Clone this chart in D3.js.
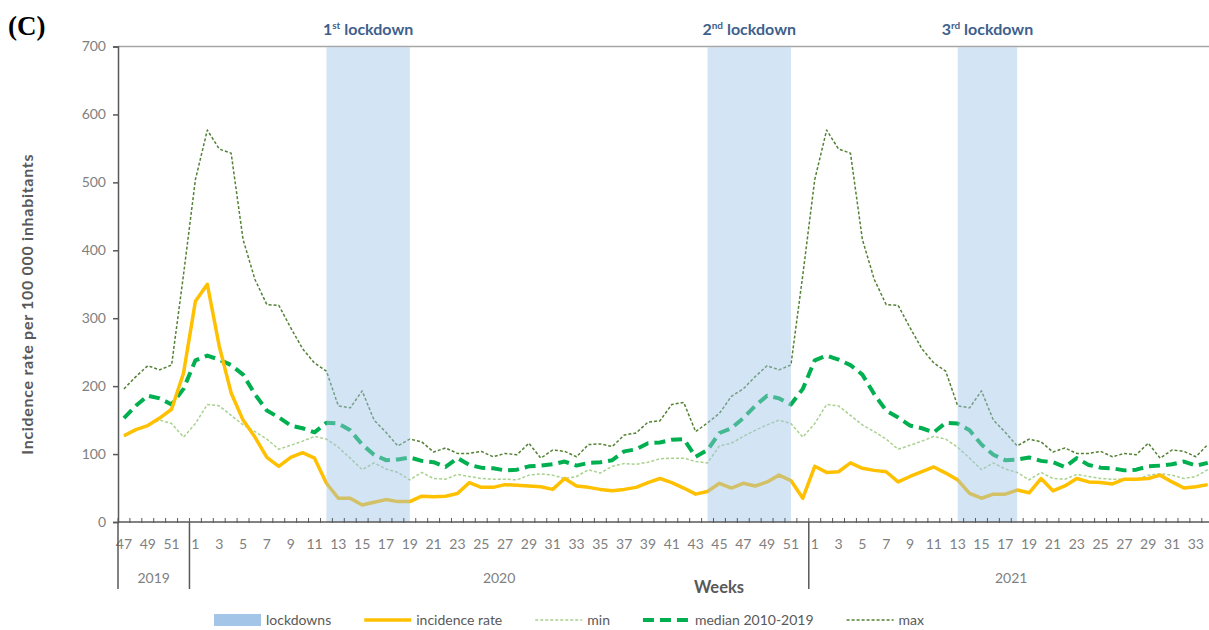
<!DOCTYPE html>
<html>
<head>
<meta charset="utf-8">
<script src="https://cdn.jsdelivr.net/npm/d3@7"></script>
<style>
  body { margin: 0; background: #fff; }
  svg { display: block; font-family: Lato, "Open Sans", sans-serif; }
</style>
</head>
<body>
<svg id="chart"></svg>
<script>
// weeks on the x axis, per year
const years = [2019, 2020, 2021];
const weeks2019 = [47, 48, 49, 50, 51, 52];
const weeks2020 = d3.range(1, 53);
const weeks2021 = d3.range(1, 35);

// observed incidence rate per 100 000 inhabitants
const incidence2019 = [127, 136, 142, 153, 166, 219];
const incidence2020 = [325, 350, 259, 190, 150, 125, 95, 82, 95, 102, 94, 57, 35, 35, 25, 29, 33, 30, 30, 38,
  37, 38, 42, 58, 51, 51, 55, 54, 53, 52, 48, 64, 53, 51, 48, 46, 48, 51, 58, 64,
  58, 50, 41, 45, 57, 50, 57, 53, 59, 69, 61, 35];
const incidence2021 = [82, 73, 74, 87, 79, 76, 74, 59, 67, 74, 81, 72, 62, 42, 35, 41, 41, 47, 43, 64,
  46, 53, 64, 59, 58, 56, 63, 63, 64, 69, 59, 50, 52, 55];

// 2010-2019 reference, by week number 1..52
const refMin = [145, 173, 171, 157, 143, 133, 122, 107, 113, 119, 126, 122, 110, 94, 77, 87, 78, 73, 62, 73,
  64, 63, 70, 67, 64, 63, 63, 62, 69, 71, 69, 64, 67, 77, 72, 82, 86, 85, 88, 93,
  94, 94, 89, 87, 112, 116, 126, 135, 143, 150, 145, 125];
const refMedian = [238, 245, 239, 231, 217, 188, 164, 154, 142, 138, 132, 146, 145, 135, 114, 99, 91, 92, 95, 90,
  88, 81, 94, 84, 80, 79, 76, 77, 82, 83, 85, 89, 83, 87, 88, 91, 104, 107, 116, 117,
  121, 122, 96, 106, 131, 138, 153, 171, 186, 182, 173, 196];
const refMax = [504, 577, 549, 543, 416, 357, 320, 319, 286, 255, 234, 222, 171, 168, 193, 150, 132, 112, 122, 118,
  103, 109, 101, 101, 104, 96, 101, 99, 116, 94, 106, 104, 96, 114, 115, 111, 128, 131, 147, 149,
  173, 176, 133, 146, 160, 185, 196, 214, 230, 224, 231, 364];

const lockdowns = [
  { num: '1', sup: 'st', from: [2020, 12], to: [2020, 19] },
  { num: '2', sup: 'nd', from: [2020, 44], to: [2020, 51] },
  { num: '3', sup: 'rd', from: [2021, 13], to: [2021, 18] }
];

const yTicks = [0, 100, 200, 300, 400, 500, 600, 700];

class WeeklyChart {

  constructor(_config) {
    this.config = {
      parentElement: _config.parentElement,
      containerWidth: _config.containerWidth || 1209,
      containerHeight: _config.containerHeight || 630,
      margin: { top: 46.5, left: 118, bottom: 108 },
      weekWidth: 11.91
    };
    this.initVis();
  }

  initVis() {
    let vis = this;

    // flatten the year/week structure into one list of categories
    const weeksByYear = [weeks2019, weeks2020, weeks2021];
    const incByYear = [incidence2019, incidence2020, incidence2021];
    vis.cats = [];
    years.forEach((yr, k) => {
      weeksByYear[k].forEach((w, j) => vis.cats.push({ year: yr, week: w, inc: incByYear[k][j] }));
    });
    vis.cats.forEach((c, i) => c.i = i);

    vis.svg = d3.select(vis.config.parentElement)
      .attr('width', vis.config.containerWidth)
      .attr('height', vis.config.containerHeight);

    const m = vis.config.margin;
    const bottom = vis.config.containerHeight - m.bottom;

    vis.x = d3.scaleBand()
      .domain(vis.cats.map(c => c.i))
      .range([m.left, m.left + vis.cats.length * vis.config.weekWidth]);
    vis.y = d3.scaleLinear().domain([0, 700]).range([bottom, m.top]);

    const xc = i => vis.x(i) + vis.x.bandwidth() / 2;
    const idxOf = (yr, wk) => vis.cats.find(c => c.year === yr && c.week === wk).i;

    // top frame line at 700
    vis.svg.append('line')
      .attr('x1', m.left).attr('x2', vis.config.containerWidth)
      .attr('y1', vis.y(700)).attr('y2', vis.y(700))
      .attr('stroke', '#a6a6a6').attr('stroke-width', 1.5);

    // y axis
    const yAxis = d3.axisLeft(vis.y).tickValues(yTicks).tickSize(5).tickPadding(7);
    const yG = vis.svg.append('g')
      .attr('transform', `translate(${m.left},0)`)
      .call(yAxis);
    yG.select('.domain').attr('stroke', '#595959').attr('stroke-width', 1.5);
    yG.selectAll('.tick line').attr('stroke', '#595959').attr('stroke-width', 1.5);
    yG.selectAll('text').attr('fill', '#7f7f7f').style('font-size', '14px').style('font-family', 'Lato');

    vis.svg.append('text')
      .attr('transform', `translate(33,${(vis.y(0) + vis.y(700)) / 2 + 20}) rotate(-90)`)
      .attr('text-anchor', 'middle')
      .attr('fill', '#595959')
      .style('font-size', '16px').style('font-weight', 'bold').style('letter-spacing', '0.7px')
      .text('Incidence rate per 100 000 inhabitants');

    // series
    const series = [
      { key: 'max', vals: vis.cats.map(c => refMax[c.week - 1]), color: '#538135', w: 1.5, dash: '3,2' },
      { key: 'min', vals: vis.cats.map(c => refMin[c.week - 1]), color: '#a9d18e', w: 1.5, dash: '3,2' },
      { key: 'median', vals: vis.cats.map(c => refMedian[c.week - 1]), color: '#00b050', w: 4, dash: '11,6' },
      { key: 'inc', vals: vis.cats.map(c => c.inc), color: '#ffc000', w: 3.5, dash: null }
    ];
    vis.series = series;

    const line = d3.line()
      .x((d, i) => xc(i))
      .y(d => vis.y(d));

    vis.svg.selectAll('.series')
      .data(series)
      .join('path')
      .attr('class', 'series')
      .attr('fill', 'none')
      .attr('stroke', d => d.color)
      .attr('stroke-width', d => d.w)
      .attr('stroke-dasharray', d => d.dash)
      .attr('stroke-linejoin', 'round')
      .attr('d', d => line(d.vals));

    // lockdown bands, drawn over the lines
    vis.svg.selectAll('.band')
      .data(lockdowns)
      .join('rect')
      .attr('class', 'band')
      .attr('x', d => xc(idxOf(...d.from)))
      .attr('width', d => xc(idxOf(...d.to)) - xc(idxOf(...d.from)))
      .attr('y', vis.y(700) + 0.75)
      .attr('height', vis.y(0) - vis.y(700) - 0.75)
      .attr('fill', '#9dc3e6')
      .attr('fill-opacity', 0.45);

    const lbl = vis.svg.selectAll('.ld-label')
      .data(lockdowns)
      .join('text')
      .attr('class', 'ld-label')
      .attr('x', d => (xc(idxOf(...d.from)) + xc(idxOf(...d.to))) / 2)
      .attr('y', 34.5)
      .attr('text-anchor', 'middle')
      .attr('fill', '#3f5f8c')
      .style('font-size', '16px').style('font-weight', 'bold');
    lbl.append('tspan').text(d => d.num);
    lbl.append('tspan').attr('dy', -6).style('font-size', '10px').text(d => d.sup);
    lbl.append('tspan').attr('dy', 6).text(' lockdown');

    // x axis: week labels every other week
    const xAxis = d3.axisBottom(vis.x)
      .tickSize(0)
      .tickPadding(17)
      .tickFormat(i => i % 2 === 0 ? vis.cats[i].week : '');
    const xG = vis.svg.append('g')
      .attr('transform', `translate(0,${bottom})`)
      .call(xAxis);
    xG.select('.domain').remove();
    xG.selectAll('text').attr('fill', '#7f7f7f').style('font-size', '14px').style('font-family', 'Lato');

    vis.svg.append('line')
      .attr('x1', m.left).attr('x2', vis.config.containerWidth)
      .attr('y1', bottom).attr('y2', bottom)
      .attr('stroke', '#595959').attr('stroke-width', 1.5);

    vis.svg.selectAll('.wtick')
      .data(vis.cats)
      .join('line')
      .attr('class', 'wtick')
      .attr('x1', d => vis.x(d.i)).attr('x2', d => vis.x(d.i))
      .attr('y1', bottom - 4).attr('y2', bottom + 1)
      .attr('stroke', '#595959').attr('stroke-width', 1);

    // year groups
    const groups = years.map(yr => {
      const cs = vis.cats.filter(c => c.year === yr);
      return { year: yr, x0: vis.x(cs[0].i), x1: vis.x(cs[cs.length - 1].i) + vis.x.bandwidth() };
    });
    vis.svg.selectAll('.ysep')
      .data(groups)
      .join('line')
      .attr('class', 'ysep')
      .attr('x1', d => d.x0).attr('x2', d => d.x0)
      .attr('y1', bottom).attr('y2', bottom + 67)
      .attr('stroke', '#595959').attr('stroke-width', 1.5);
    vis.svg.selectAll('.ylab')
      .data(groups)
      .join('text')
      .attr('class', 'ylab')
      .attr('x', d => (d.x0 + d.x1) / 2)
      .attr('y', bottom + 61)
      .attr('text-anchor', 'middle')
      .attr('fill', '#7f7f7f')
      .style('font-size', '14px')
      .text(d => d.year);

    vis.svg.append('text')
      .attr('x', 719).attr('y', bottom + 71)
      .attr('text-anchor', 'middle')
      .attr('fill', '#595959')
      .style('font-size', '16.5px').style('font-weight', 'bold')
      .text('Weeks');

    vis.svg.append('text')
      .attr('x', 8).attr('y', 35)
      .attr('fill', '#000')
      .style('font-family', '"Liberation Serif", "DejaVu Serif", serif')
      .style('font-size', '27px').style('font-weight', 'bold')
      .text('(C)');

    vis.renderLegend();
  }

  renderLegend() {
    let vis = this;
    const items = [
      { name: 'lockdowns', type: 'rect' },
      { name: 'incidence rate', s: vis.series[3] },
      { name: 'min', s: vis.series[1] },
      { name: 'median 2010-2019', s: vis.series[2] },
      { name: 'max', s: vis.series[0] }
    ];
    const ly = 620;
    let cx = 214;
    const leg = vis.svg.append('g');
    items.forEach(it => {
      if (it.type === 'rect') {
        leg.append('rect').attr('x', cx).attr('y', ly - 6).attr('width', 47).attr('height', 12)
          .attr('fill', '#a3c6e8');
      } else {
        leg.append('line').attr('x1', cx).attr('x2', cx + 47).attr('y1', ly).attr('y2', ly)
          .attr('stroke', it.s.color).attr('stroke-width', it.s.w)
          .attr('stroke-dasharray', it.s.dash);
      }
      const t = leg.append('text').attr('x', cx + 52).attr('y', ly + 5)
        .attr('fill', '#595959').style('font-size', '14px').text(it.name);
      cx += 52 + t.node().getComputedTextLength() + 33;
    });
  }
}

const chart = new WeeklyChart({ parentElement: '#chart' });
</script>
</body>
</html>
